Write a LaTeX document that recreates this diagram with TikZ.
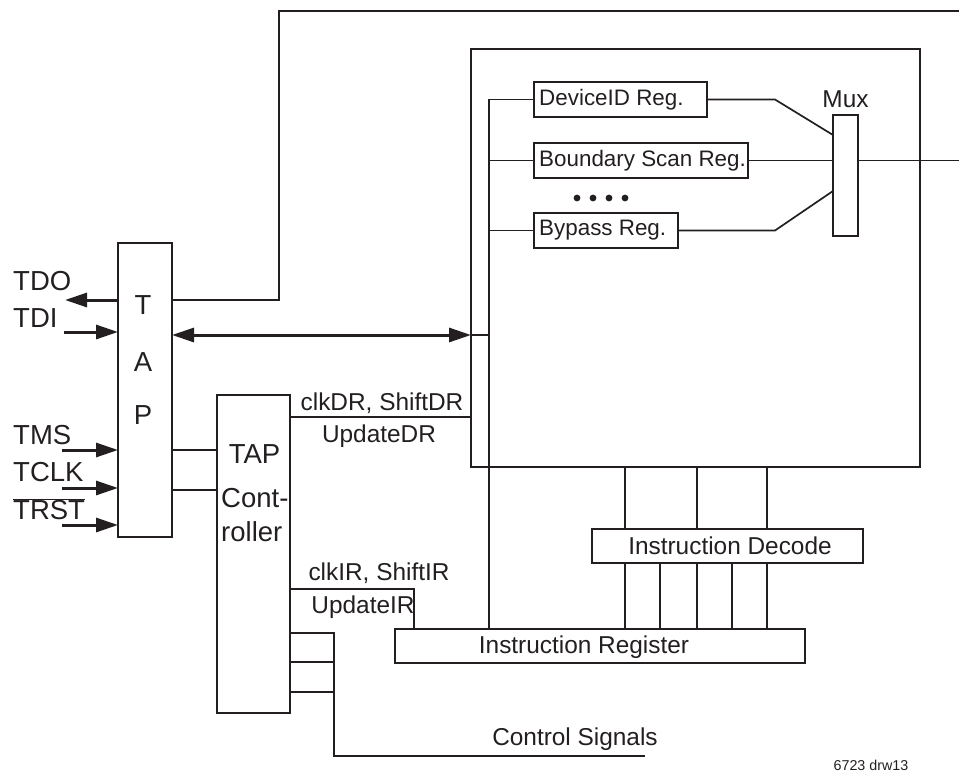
\documentclass[tikz,border=0pt]{standalone}
\usepackage{fontspec}
\setmainfont{Liberation Sans}
\usetikzlibrary{arrows.meta}
\definecolor{ink}{RGB}{35,31,32}
\begin{document}
\begin{tikzpicture}[x=1pt,y=-1pt, color=ink,
  box/.style={draw=ink, line width=1.7pt, inner sep=0pt, outer sep=0pt, rectangle},
  wire/.style={draw=ink, line width=1.7pt},
  route/.style={draw=ink, line width=2.4pt},
  bigtip/.style={draw=ink, line width=3pt, -{Triangle[length=22pt,width=14pt]}},
  lbl/.style={inner sep=0pt, text=ink, font=\fontsize{24.4}{28}\selectfont},
  pin/.style={inner sep=0pt, text=ink, anchor=west, font=\fontsize{27.5}{30}\selectfont},
  big/.style={inner sep=0pt, text=ink, font=\fontsize{27.5}{30}\selectfont},
  reglbl/.style={inner sep=0pt, text=ink, anchor=west, font=\fontsize{22.4}{26}\selectfont},
  note/.style={inner sep=0pt, text=ink, font=\fontsize{14.3}{16}\selectfont},
]
\useasboundingbox (0,0) rectangle (959,773);

% ---------- boxes ----------
\node[box, minimum width=54pt, minimum height=294pt] (tap) at (145,390) {};
\node[box, minimum width=73pt, minimum height=318pt] (ctrl) at (253.5,554) {};
\node[box, minimum width=449pt, minimum height=418pt] (main) at (695.5,258) {};
\node[box, minimum width=173pt, minimum height=35pt] (devid) at (620.5,99.5) {};
\node[box, minimum width=214pt, minimum height=35pt] (bscan) at (641,160.5) {};
\node[box, minimum width=144pt, minimum height=35pt] (bypass) at (606,230.5) {};
\node[box, minimum width=25pt, minimum height=121pt] (mux) at (845.5,175.5) {};
\node[box, minimum width=410pt, minimum height=34pt] (ir) at (600,646) {};
\node[box, minimum width=271pt, minimum height=34pt] (idec) at (727.5,546) {};

% ---------- texts ----------
\node[big] (tT) at (143,305) {T};
\node[big] (tA) at (143,362) {A};
\node[big] (tP) at (143,415) {P};
\node[big] (cTAP) at (254.5,454) {TAP};
\node[big, anchor=west] (cCont) at (221,498) {Cont-};
\node[big, anchor=west] (cRoll) at (221,532) {roller};

\node[pin] (lTDO) at (13,281) {TDO};
\node[pin] (lTDI) at (13,318) {TDI};
\node[pin] (lTMS) at (13,435) {TMS};
\node[pin] (lTCLK) at (13,472) {TCLK};
\node[pin] (lTRST) at (13,509) {$\overline{\hbox{TRST}}$};

\node[reglbl] (tdev) at ([xshift=5pt]devid.west) {DeviceID Reg.};
\node[reglbl] (tbs) at ([xshift=5pt]bscan.west) {Boundary Scan Reg.};
\node[reglbl] (tbp) at ([xshift=5pt]bypass.west) {Bypass Reg.};
\node[lbl] (tmux) at (845.5,99) {Mux};
\node[lbl] (tir) at (584,647) {Instruction Register};
\node[lbl] (tid) at (730,546) {Instruction Decode};

\node[lbl, anchor=base] (tcdr) at (382,410) {clkDR, ShiftDR};
\node[lbl, anchor=base] (tudr) at (379,442) {UpdateDR};
\node[lbl, anchor=base] (tcir) at (379,580) {clkIR, ShiftIR};
\node[lbl, anchor=base] (tuir) at (363,613) {UpdateIR};
\node[lbl, anchor=base] (tcs) at (575,745) {Control Signals};
\node[note] (tdrw) at (871,765) {6723 drw13};

% ---------- coordinates ----------
\coordinate (tdoEnd) at (65,300);
\coordinate (tdiS) at (64,332);
\coordinate (tmsS) at (62,450);
\coordinate (tclkS) at (62,488);
\coordinate (trstS) at (62,525);
\coordinate (tdoUp) at (279,11);
\coordinate (tdoR) at (959,11);
\coordinate (bidi) at (0,335);
\coordinate (busx) at (489,0);
\coordinate (dj) at (775,0);
\coordinate (mout) at (959,0);
\coordinate (c1) at (0,450);
\coordinate (c2) at (0,490);
\coordinate (cdr) at (0,417);
\coordinate (cir) at (414,589);
\coordinate (cs) at (334,633);
\coordinate (cs2) at (0,662);
\coordinate (cs3) at (0,692);
\coordinate (csEnd) at (645,756);

% ---------- pins ----------
\draw[bigtip] (tap.west |- tdoEnd) -- (tdoEnd);
\draw[bigtip] (tdiS) -- (tap.west |- tdiS);
\draw[bigtip] (tmsS) -- (tap.west |- tmsS);
\draw[bigtip] (tclkS) -- (tap.west |- tclkS);
\draw[bigtip] (trstS) -- (tap.west |- trstS);

% ---------- TDO route ----------
\draw[route] (tap.east |- tdoEnd) -| (tdoUp) -- (tdoR);

% ---------- bidirectional ----------
\draw[draw=ink, line width=3pt, {Triangle[length=22pt,width=14pt]}-{Triangle[length=22pt,width=14pt]}]
  (tap.east |- bidi) -- (main.west |- bidi);
\draw[wire] (main.west |- bidi) -- (busx |- bidi);

% ---------- bus ----------
\draw[wire] (devid.west) -| (busx |- ir.north);
\draw[wire] (bscan.west) -- (bscan.west -| busx);
\draw[wire] (bypass.west) -- (bypass.west -| busx);

% ---------- mux inputs ----------
\draw[wire] (devid.east) -- (devid.east -| dj) -- ([yshift=40.5pt]mux.west);
\draw[wire] (bscan.east) -- (bscan.east -| mux.west);
\draw[wire] (bypass.east) -- (bypass.east -| dj) -- ([yshift=-15.5pt]mux.west);
\draw[wire] (mux.east |- bscan.east) -- (mout |- bscan.east);

% dots
\foreach \x in {577,593,609,625} \fill[ink] (\x,198) circle (3.4pt);

% ---------- TAP to controller ----------
\draw[wire] (tap.east |- c1) -- (ctrl.west |- c1);
\draw[wire] (tap.east |- c2) -- (ctrl.west |- c2);

% ---------- controller outputs ----------
\draw[wire] (ctrl.east |- cdr) -- (main.west |- cdr);
\draw[wire] (ctrl.east |- cir) -- (cir) -- (cir |- ir.north);
\draw[wire] (ctrl.east |- cs) -- (cs) -- (cs |- csEnd) -- (csEnd);
\draw[wire] (ctrl.east |- cs2) -- (cs |- cs2);
\draw[wire] (ctrl.east |- cs3) -- (cs |- cs3);

% ---------- decode lines ----------
\foreach \x in {625,697,767} {
  \coordinate (t) at (\x,0);
  \draw[wire] (main.south -| t) -- (idec.north -| t);
}
\foreach \x in {625,660,697,732,767} {
  \coordinate (t) at (\x,0);
  \draw[wire] (idec.south -| t) -- (ir.north -| t);
}
\end{tikzpicture}
\end{document}
